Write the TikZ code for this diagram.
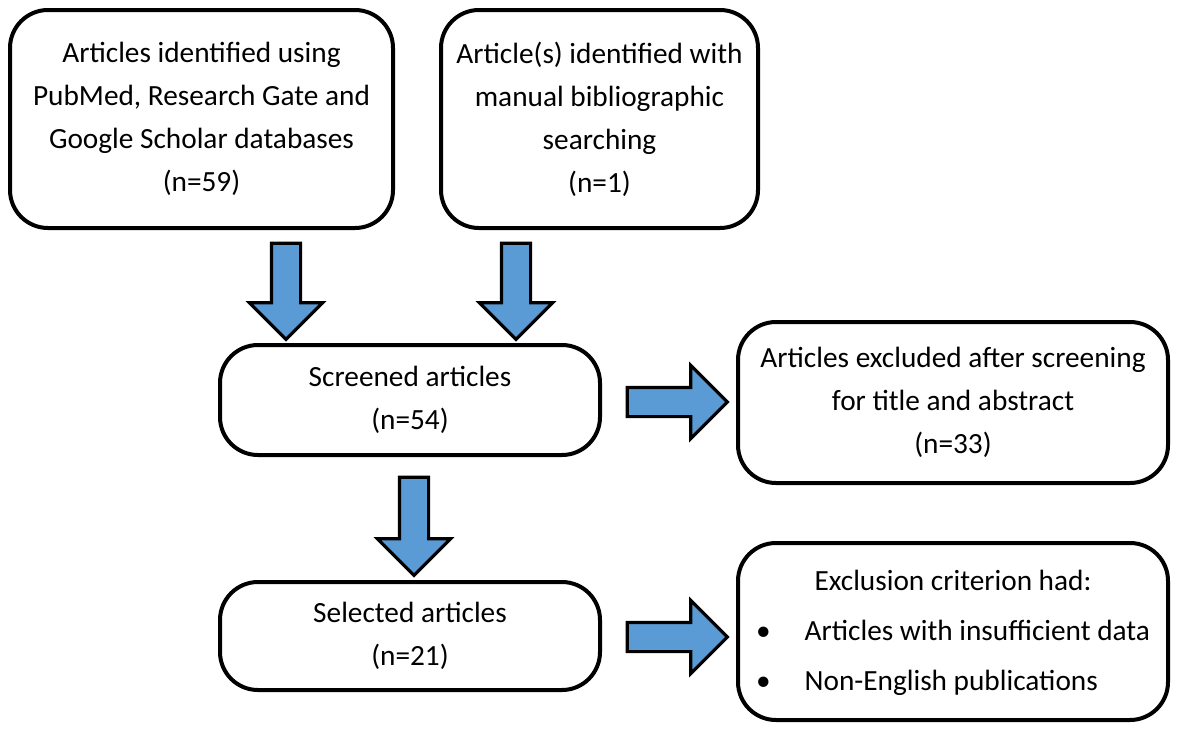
\documentclass[tikz,border=0pt]{standalone}
\usepackage{fontspec}
\setmainfont{Carlito}
\usetikzlibrary{shapes.arrows}

\definecolor{arrowblue}{RGB}{91,155,213}

\tikzset{
  box/.style={draw=black, line width=4pt, rounded corners=38pt, fill=white,
    align=center, inner sep=0pt, font=\fontsize{29.3}{43}\selectfont},
  blockarrow/.style={single arrow, draw=black, fill=arrowblue, line width=3.2pt,
    text height=0pt, text depth=0pt, inner xsep=0pt, inner ysep=13pt,
    single arrow head extend=22pt, single arrow head indent=0pt}
}

\begin{document}
\begin{tikzpicture}[x=1pt, y=-1pt]
      \useasboundingbox (0,0) rectangle (1177,728);
      % boxes
      \node[box, minimum width=383, minimum height=218] (found) at (201.5,119)
        {Articles identified using\\PubMed, Research Gate and\\Google Scholar databases\\(n=59)};
      \node[box, minimum width=317, minimum height=218] (manual) at (599.5,119)
        {Article(s) identified with\\manual bibliographic\\searching\\(n=1)};
      \node[box, minimum width=380, minimum height=110] (screened) at (410,400)
        {Screened articles\\(n=54)};
      \node[box, minimum width=430, minimum height=161] (excluded) at (953,402.5)
        {Articles excluded after screening\\for title and abstract\\(n=33)};
      \node[box, minimum width=380, minimum height=108] (selected) at (410,636)
        {Selected articles\\(n=21)};
      \node[box, minimum width=430, minimum height=177] (criteria) at (953,631.5)
        {\begin{tabular}{@{}l@{\hspace{34pt}}l@{}}
           \multicolumn{2}{c}{Exclusion criterion had:}\\[7pt]
           \textbullet & Articles with insufficient data\\[7pt]
           \textbullet & Non-English publications
         \end{tabular}};
      % block arrows
      \node[blockarrow, rotate=-90, minimum height=96] (down1) at (286,284) {};
      \node[blockarrow, rotate=-90, minimum height=96] (down2) at (516,284) {};
      \node[blockarrow, rotate=-90, minimum height=98] (down3) at (414,519) {};
      \node[blockarrow, minimum height=100] (right1) at (670,402) {};
      \node[blockarrow, minimum height=100] (right2) at (670,637) {};
    \end{tikzpicture}
\end{document}
